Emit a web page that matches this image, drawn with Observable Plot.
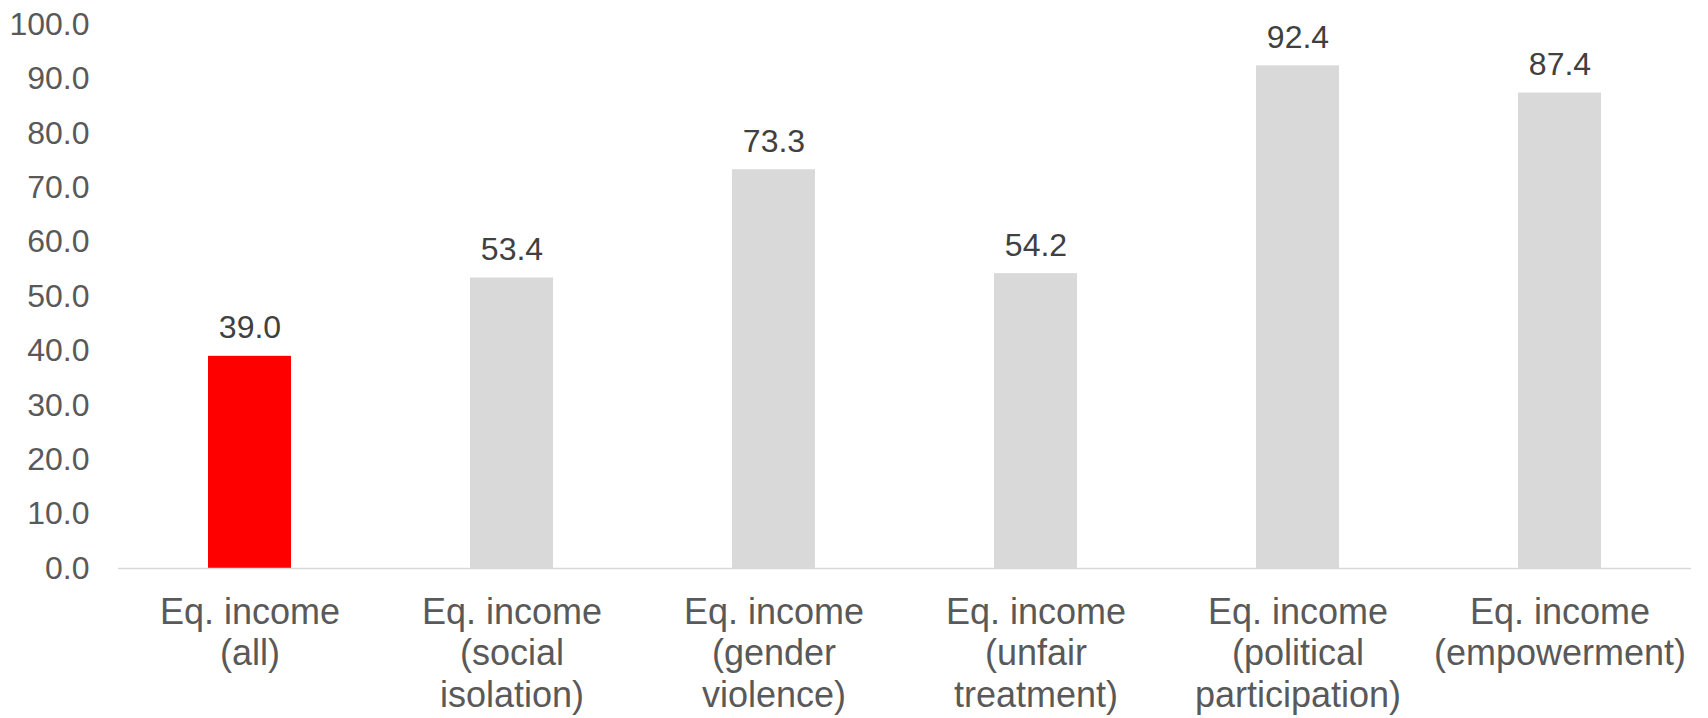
<!DOCTYPE html>
<html>
<head>
<meta charset="utf-8">
<script src="https://cdn.jsdelivr.net/npm/d3@7"></script>
<script src="https://cdn.jsdelivr.net/npm/@observablehq/plot@0.6"></script>
<style>
  html, body { margin: 0; padding: 0; background: #fff; }
  #chart svg { display: block; }
</style>
</head>
<body>
<div id="chart"></div>
<script>
const categories = [
  "Eq. income\n(all)",
  "Eq. income\n(social\nisolation)",
  "Eq. income\n(gender\nviolence)",
  "Eq. income\n(unfair\ntreatment)",
  "Eq. income\n(political\nparticipation)",
  "Eq. income\n(empowerment)"
];
const values = [39.0, 53.4, 73.3, 54.2, 92.4, 87.4];
const yTicks = [0, 10, 20, 30, 40, 50, 60, 70, 80, 90, 100];
const highlighted = "Eq. income\n(all)";

const data = categories.map((c, i) => ({category: c, value: values[i]}));
const FONT = "'Liberation Sans', Arial, Helvetica, sans-serif";

const chart = Plot.plot({
  width: 1708,
  height: 718,
  marginLeft: 118,
  marginRight: 17,
  marginTop: 24,
  marginBottom: 150,
  style: {fontFamily: FONT, background: "#fff"},
  x: {domain: categories, paddingInner: 0.685, paddingOuter: 0.3425, label: null},
  y: {domain: [0, 100], label: null},
  marks: [
    Plot.axisY({
      ticks: yTicks, tickSize: 0, tickPadding: 29, tickFormat: d3.format(".1f"),
      fontSize: 32, fill: "#595959", label: null
    }),
    Plot.axisX({
      tickSize: 0, tickPadding: 26, fontSize: 36, lineHeight: 1.15,
      fill: "#595959", label: null
    }),
    Plot.barY(data, {
      x: "category", y: "value",
      fill: d => d.category === highlighted ? "#ff0000" : "#d9d9d9"
    }),
    Plot.ruleY([0], {stroke: "#d9d9d9", strokeWidth: 1.5}),
    Plot.text(data, {
      x: "category", y: "value", text: d => d3.format(".1f")(d.value),
      lineAnchor: "bottom", dy: -18, fontSize: 32, fill: "#404040"
    })
  ]
});
document.getElementById("chart").appendChild(chart);
</script>
</body>
</html>
